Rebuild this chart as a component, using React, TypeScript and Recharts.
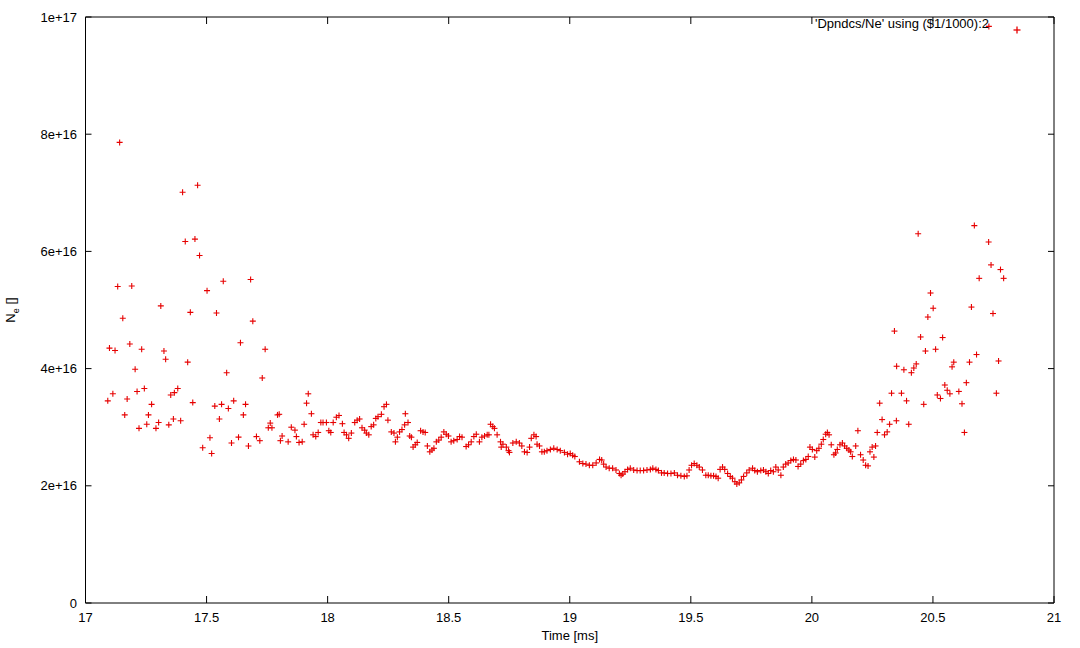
import React from 'react';
import { ScatterChart, Scatter, XAxis, YAxis, Legend } from 'recharts';

// time in ms, density in units of 1e16
const timeMs = [
  17.092, 17.099, 17.113, 17.122, 17.133, 17.141, 17.154, 17.162, 17.172, 17.183,
  17.191, 17.205, 17.213, 17.221, 17.232, 17.243, 17.253, 17.26, 17.273, 17.291,
  17.302, 17.311, 17.324, 17.331, 17.344, 17.352, 17.363, 17.367, 17.381, 17.393,
  17.401, 17.412, 17.422, 17.433, 17.443, 17.452, 17.463, 17.471, 17.484, 17.502,
  17.514, 17.521, 17.534, 17.541, 17.553, 17.562, 17.569, 17.583, 17.59, 17.603,
  17.612, 17.632, 17.64, 17.652, 17.661, 17.673, 17.682, 17.691, 17.706, 17.72,
  17.73, 17.742, 17.755, 17.763, 17.77, 17.793, 17.8, 17.805, 17.812, 17.837,
  17.85, 17.865, 17.871, 17.882, 17.895, 17.903, 17.913, 17.92, 17.933, 17.94,
  17.951, 17.961, 17.972, 17.981, 17.995, 18.005, 18.013, 18.023, 18.036, 18.047,
  18.061, 18.068, 18.078, 18.087, 18.098, 18.112, 18.122, 18.132, 18.142, 18.153,
  18.16, 18.17, 18.18, 18.19, 18.199, 18.208, 18.222, 18.233, 18.243, 18.249,
  18.263, 18.274, 18.28, 18.288, 18.297, 18.307, 18.318, 18.321, 18.332, 18.339,
  18.346, 18.353, 18.362, 18.37, 18.384, 18.394, 18.403, 18.412, 18.422, 18.431,
  18.439, 18.449, 18.459, 18.469, 18.48, 18.49, 18.499, 18.51, 18.521, 18.535,
  18.545, 18.555, 18.572, 18.582, 18.593, 18.604, 18.614, 18.627, 18.637, 18.648,
  18.659, 18.666, 18.673, 18.682, 18.689, 18.7, 18.714, 18.717, 18.724, 18.738,
  18.747, 18.751, 18.765, 18.779, 18.792, 18.802, 18.813, 18.824, 18.834, 18.841,
  18.852, 18.861, 18.865, 18.875, 18.885, 18.895, 18.906, 18.92, 18.934, 18.948,
  18.961, 18.978, 18.991, 19.002, 19.012, 19.021, 19.04, 19.054, 19.067, 19.081,
  19.095, 19.109, 19.123, 19.132, 19.14, 19.15, 19.163, 19.177, 19.191, 19.205,
  19.212, 19.219, 19.228, 19.239, 19.25, 19.264, 19.278, 19.291, 19.305, 19.319,
  19.333, 19.343, 19.356, 19.366, 19.379, 19.39, 19.404, 19.418, 19.432, 19.445,
  19.459, 19.473, 19.484, 19.493, 19.503, 19.514, 19.525, 19.535, 19.548, 19.562,
  19.572, 19.583, 19.594, 19.604, 19.613, 19.621, 19.631, 19.64, 19.652, 19.663,
  19.672, 19.682, 19.69, 19.7, 19.709, 19.718, 19.731, 19.741, 19.755, 19.764,
  19.775, 19.789, 19.8, 19.81, 19.82, 19.83, 19.841, 19.851, 19.861, 19.872,
  19.882, 19.892, 19.902, 19.913, 19.924, 19.934, 19.943, 19.954, 19.965, 19.975,
  19.985, 19.992, 20.002, 20.012, 20.02, 20.029, 20.039, 20.047, 20.057, 20.064,
  20.071, 20.08, 20.091, 20.098, 20.105, 20.116, 20.126, 20.135, 20.144, 20.153,
  20.16, 20.167, 20.181, 20.19, 20.201, 20.212, 20.222, 20.232, 20.24, 20.249,
  20.256, 20.263, 20.27, 20.28, 20.29, 20.3, 20.311, 20.321, 20.329, 20.341,
  20.349, 20.35, 20.37, 20.38, 20.391, 20.4, 20.411, 20.421, 20.431, 20.439,
  20.449, 20.462, 20.469, 20.479, 20.49, 20.501, 20.511, 20.518, 20.531, 20.54,
  20.549, 20.559, 20.57, 20.579, 20.586, 20.607, 20.62, 20.63, 20.638, 20.651,
  20.659, 20.671, 20.68, 20.691, 20.73, 20.731, 20.74, 20.748, 20.762, 20.771,
  20.779, 20.792,
];

const neValues = [
  3.45, 4.35, 3.57, 4.31, 5.4, 7.86, 4.86, 3.21, 3.48, 4.42,
  5.41, 3.99, 3.61, 2.98, 4.33, 3.66, 3.05, 3.21, 3.39, 2.98,
  3.08, 5.07, 4.3, 4.16, 3.04, 3.55, 3.14, 3.59, 3.66, 3.11,
  7.01, 6.17, 4.11, 4.96, 3.42, 6.21, 7.13, 5.93, 2.65, 5.33,
  2.82, 2.55, 3.36, 4.95, 3.14, 3.39, 5.49, 3.93, 3.32, 2.73,
  3.45, 2.83, 4.44, 3.21, 3.39, 2.68, 5.52, 4.81, 2.84, 2.77,
  3.84, 4.33, 2.99, 3.07, 2.99, 3.21, 3.22, 2.77, 2.85, 2.75,
  3.0, 2.95, 2.84, 2.74, 2.75, 3.05, 3.41, 3.57, 3.23, 2.87,
  2.84, 2.91, 3.08, 3.08, 3.08, 2.94, 2.91, 3.08, 3.17, 3.2,
  3.06, 2.91, 2.87, 2.81, 2.9, 3.08, 3.12, 3.14, 2.99, 2.95,
  2.9, 2.87, 3.01, 3.04, 3.15, 3.18, 3.22, 3.35, 3.39, 3.12,
  2.92, 2.9, 2.75, 2.83, 2.92, 2.96, 3.04, 3.23, 3.08, 2.85,
  2.83, 2.66, 2.7, 2.74, 2.94, 2.92, 2.91, 2.68, 2.58, 2.61,
  2.64, 2.75, 2.78, 2.83, 2.92, 2.88, 2.85, 2.75, 2.77, 2.79,
  2.84, 2.83, 2.67, 2.7, 2.75, 2.84, 2.88, 2.75, 2.83, 2.85,
  2.87, 2.87, 3.05, 3.01, 2.98, 2.87, 2.75, 2.66, 2.71, 2.66,
  2.6, 2.57, 2.73, 2.75, 2.73, 2.68, 2.58, 2.57, 2.66, 2.81,
  2.87, 2.84, 2.71, 2.68, 2.58, 2.58, 2.6, 2.62, 2.64, 2.62,
  2.6, 2.57, 2.54, 2.55, 2.52, 2.5, 2.41, 2.38, 2.37, 2.35,
  2.35, 2.39, 2.45, 2.44, 2.37, 2.32, 2.3, 2.3, 2.27, 2.21,
  2.18, 2.2, 2.24, 2.28, 2.3, 2.27, 2.26, 2.26, 2.26, 2.27,
  2.28, 2.3, 2.28, 2.26, 2.22, 2.22, 2.21, 2.21, 2.22, 2.18,
  2.17, 2.16, 2.17, 2.27, 2.35, 2.38, 2.35, 2.32, 2.27, 2.18,
  2.18, 2.17, 2.17, 2.16, 2.13, 2.28, 2.32, 2.28, 2.21, 2.16,
  2.13, 2.07, 2.03, 2.05, 2.1, 2.16, 2.22, 2.27, 2.3, 2.26,
  2.24, 2.26, 2.27, 2.24, 2.21, 2.26, 2.24, 2.32, 2.27, 2.18,
  2.32, 2.37, 2.39, 2.43, 2.45, 2.44, 2.33, 2.37, 2.43, 2.45,
  2.5, 2.66, 2.62, 2.49, 2.6, 2.64, 2.71, 2.79, 2.88, 2.91,
  2.87, 2.7, 2.53, 2.56, 2.62, 2.7, 2.73, 2.68, 2.64, 2.61,
  2.58, 2.5, 2.68, 2.94, 2.53, 2.44, 2.35, 2.34, 2.58, 2.66,
  2.49, 2.68, 2.91, 3.41, 3.13, 2.87, 2.92, 3.05, 3.58, 4.64,
  3.11, 4.04, 3.58, 3.98, 3.45, 3.05, 3.93, 4.01, 4.08, 6.3,
  4.54, 3.39, 4.3, 4.88, 5.29, 5.03, 4.33, 3.55, 3.49, 4.53,
  3.72, 3.63, 3.57, 4.03, 4.11, 3.61, 3.4, 2.91, 3.76, 4.11,
  5.05, 6.44, 4.24, 5.54, 6.16, 9.84, 5.77, 4.94, 3.58, 4.13,
  5.69, 5.54,
];

const xTicks = [17, 17.5, 18, 18.5, 19, 19.5, 20, 20.5, 21];
const yTicks = [0, 2, 4, 6, 8, 10];
const seriesName = "'Dpndcs/Ne' using ($1/1000):2";

const RED = '#e60000';
const FONT = '"Liberation Sans", Arial, sans-serif';

const points = timeMs.map((t, i) => ({ t, ne: neValues[i] }));

const fmtY = (v: number) => (v === 0 ? '0' : v === 10 ? '1e+17' : `${v}e+16`);

function Plus(props: any) {
  const { cx, cy } = props;
  if (cx == null || cy == null) return null;
  return (
    <g stroke={RED} strokeWidth={1.1}>
      <line x1={cx - 3} y1={cy} x2={cx + 3} y2={cy} />
      <line x1={cx} y1={cy - 3} x2={cx} y2={cy + 3} />
    </g>
  );
}

function KeyBox() {
  return (
    <div style={{ position: 'relative', width: 1080, height: 20, fontFamily: FONT, fontSize: 13 }}>
      <span style={{ position: 'absolute', right: 91, top: 0, whiteSpace: 'nowrap', color: '#000' }}>
        {seriesName}
      </span>
      <svg style={{ position: 'absolute', left: 1009, top: 6 }} width={16} height={16}>
        <line x1={4.5} y1={8} x2={11.5} y2={8} stroke={RED} strokeWidth={1.3} />
        <line x1={8} y1={4.5} x2={8} y2={11.5} stroke={RED} strokeWidth={1.3} />
      </svg>
    </div>
  );
}

function YTitle() {
  return (
    <text
      transform="translate(15,310) rotate(-90)"
      textAnchor="middle"
      fontFamily={FONT}
      fontSize={13}
      fill="#000"
    >
      N<tspan fontSize={9} dy={4}>e</tspan>
      <tspan dy={-4}> []</tspan>
    </text>
  );
}

export default function App() {
  const tickStyle = { fontFamily: FONT, fontSize: 13, fill: '#000' };
  return (
    <div style={{ position: 'absolute', left: 0, top: 0, background: '#fff' }}>
      <ScatterChart width={1080} height={648} margin={{ top: 16, right: 25, bottom: 0, left: 0 }}>
        <XAxis
          xAxisId="b"
          type="number"
          dataKey="t"
          domain={[17, 21]}
          ticks={xTicks}
          height={45}
          stroke="#000"
          tick={tickStyle}
          tickSize={-7}
          tickMargin={17}
          allowDataOverflow
          label={{ value: 'Time [ms]', position: 'insideBottom', offset: 8, style: { fontFamily: FONT, fontSize: 13, fill: '#000' } }}
        />
        <XAxis
          xAxisId="t"
          orientation="top"
          type="number"
          dataKey="t"
          domain={[17, 21]}
          ticks={xTicks}
          height={1}
          stroke="#000"
          tickSize={-7}
          tickFormatter={() => ''}
          allowDataOverflow
        />
        <YAxis
          yAxisId="l"
          type="number"
          dataKey="ne"
          domain={[0, 10]}
          ticks={yTicks}
          width={85.5}
          stroke="#000"
          tick={tickStyle}
          tickSize={-6}
          tickMargin={14.5}
          tickFormatter={fmtY}
          allowDataOverflow
          label={{ content: () => <YTitle /> }}
        />
        <YAxis
          yAxisId="r"
          orientation="right"
          type="number"
          dataKey="ne"
          domain={[0, 10]}
          ticks={yTicks}
          width={1}
          stroke="#000"
          tickSize={-6}
          tickFormatter={() => ''}
          allowDataOverflow
        />
        <Legend
          verticalAlign="middle"
          align="center"
          layout="horizontal"
          content={() => <KeyBox />}
          wrapperStyle={{ position: 'absolute', top: 16, left: 0, width: 1080 }}
        />
        <Scatter
          name={seriesName}
          data={points}
          xAxisId="b"
          yAxisId="l"
          fill={RED}
          shape={<Plus />}
          isAnimationActive={false}
        />
        <Scatter
          data={points}
          xAxisId="t"
          yAxisId="r"
          fill="none"
          shape={() => null}
          legendType="none"
          isAnimationActive={false}
        />
      </ScatterChart>
    </div>
  );
}
